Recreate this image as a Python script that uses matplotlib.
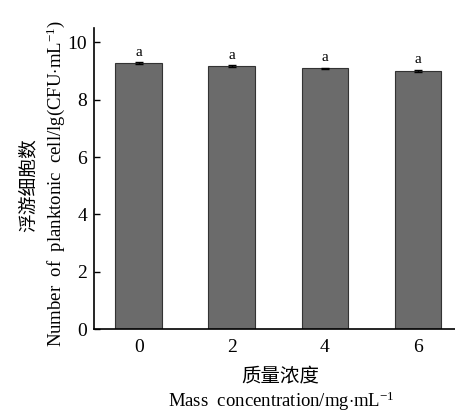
import matplotlib
matplotlib.use("Agg")
import matplotlib.pyplot as plt

plt.rcParams["mathtext.fontset"] = "custom"
plt.rcParams["mathtext.rm"] = "Liberation Serif"
plt.rcParams["mathtext.it"] = "Liberation Serif:italic"
plt.rcParams["mathtext.bf"] = "Liberation Serif:bold"

categories = ["0", "2", "4", "6"]
values = [9.27, 9.18, 9.09, 9.01]
errors = [0.04, 0.03, 0.03, 0.04]
letters = ["a", "a", "a", "a"]
yticks = [0, 2, 4, 6, 8, 10]

serif = ["Liberation Serif", "Noto Sans CJK SC"]
cjk = ["Noto Sans CJK SC", "Liberation Serif"]

fig = plt.figure(figsize=(4.56, 4.15), dpi=100)
ax = fig.add_axes([94/456, 1-329/415, 1-94/456, (329-28)/415])

x = list(range(len(categories)))
ax.bar(x, values, width=0.5, color="#6b6b6b", edgecolor="#333333", linewidth=0.8,
       yerr=errors, error_kw=dict(ecolor="black", elinewidth=1.0, capsize=3, capthick=1.0))
for xi, v, e, l in zip(x, values, errors, letters):
    ax.text(xi, v + e + 0.12, l, ha="center", va="bottom", fontsize=11, family=serif)

ax.set_xlim(-0.48, 3.41)
ax.set_ylim(0, 10.5)
ax.set_xticks(x)
ax.set_xticklabels(categories, family=serif, fontsize=14)
ax.set_yticks(yticks)
ax.set_yticklabels([str(t) for t in yticks], family=serif, fontsize=14)
ax.tick_params(axis="y", direction="in", length=4, width=1, pad=5)
ax.tick_params(axis="x", length=0, pad=7)
ax.spines["top"].set_visible(False)
ax.spines["right"].set_visible(False)
for s in ["left", "bottom"]:
    ax.spines[s].set_linewidth(1.2)

fig.text(28/456, 1-185/415, "浮游细胞数", rotation=90, ha="center", va="center", fontsize=13.5,
         family=cjk, weight="light")
fig.text(56/456, 1-183/415, "Number  of  planktonic  cell/lg(CFU$\\cdot$mL$^{-1}$)", rotation=90,
         ha="center", va="center", fontsize=13.5, family=serif)
fig.text(280/456, 1-376/415, "质量浓度", ha="center", va="center", fontsize=14,
         family=cjk, weight="light")
fig.text(281/456, 1-401/415, "Mass  concentration/mg$\\cdot$mL$^{-1}$", ha="center", va="center",
         fontsize=13.5, family=serif)

fig.savefig("out.png", dpi=100)
